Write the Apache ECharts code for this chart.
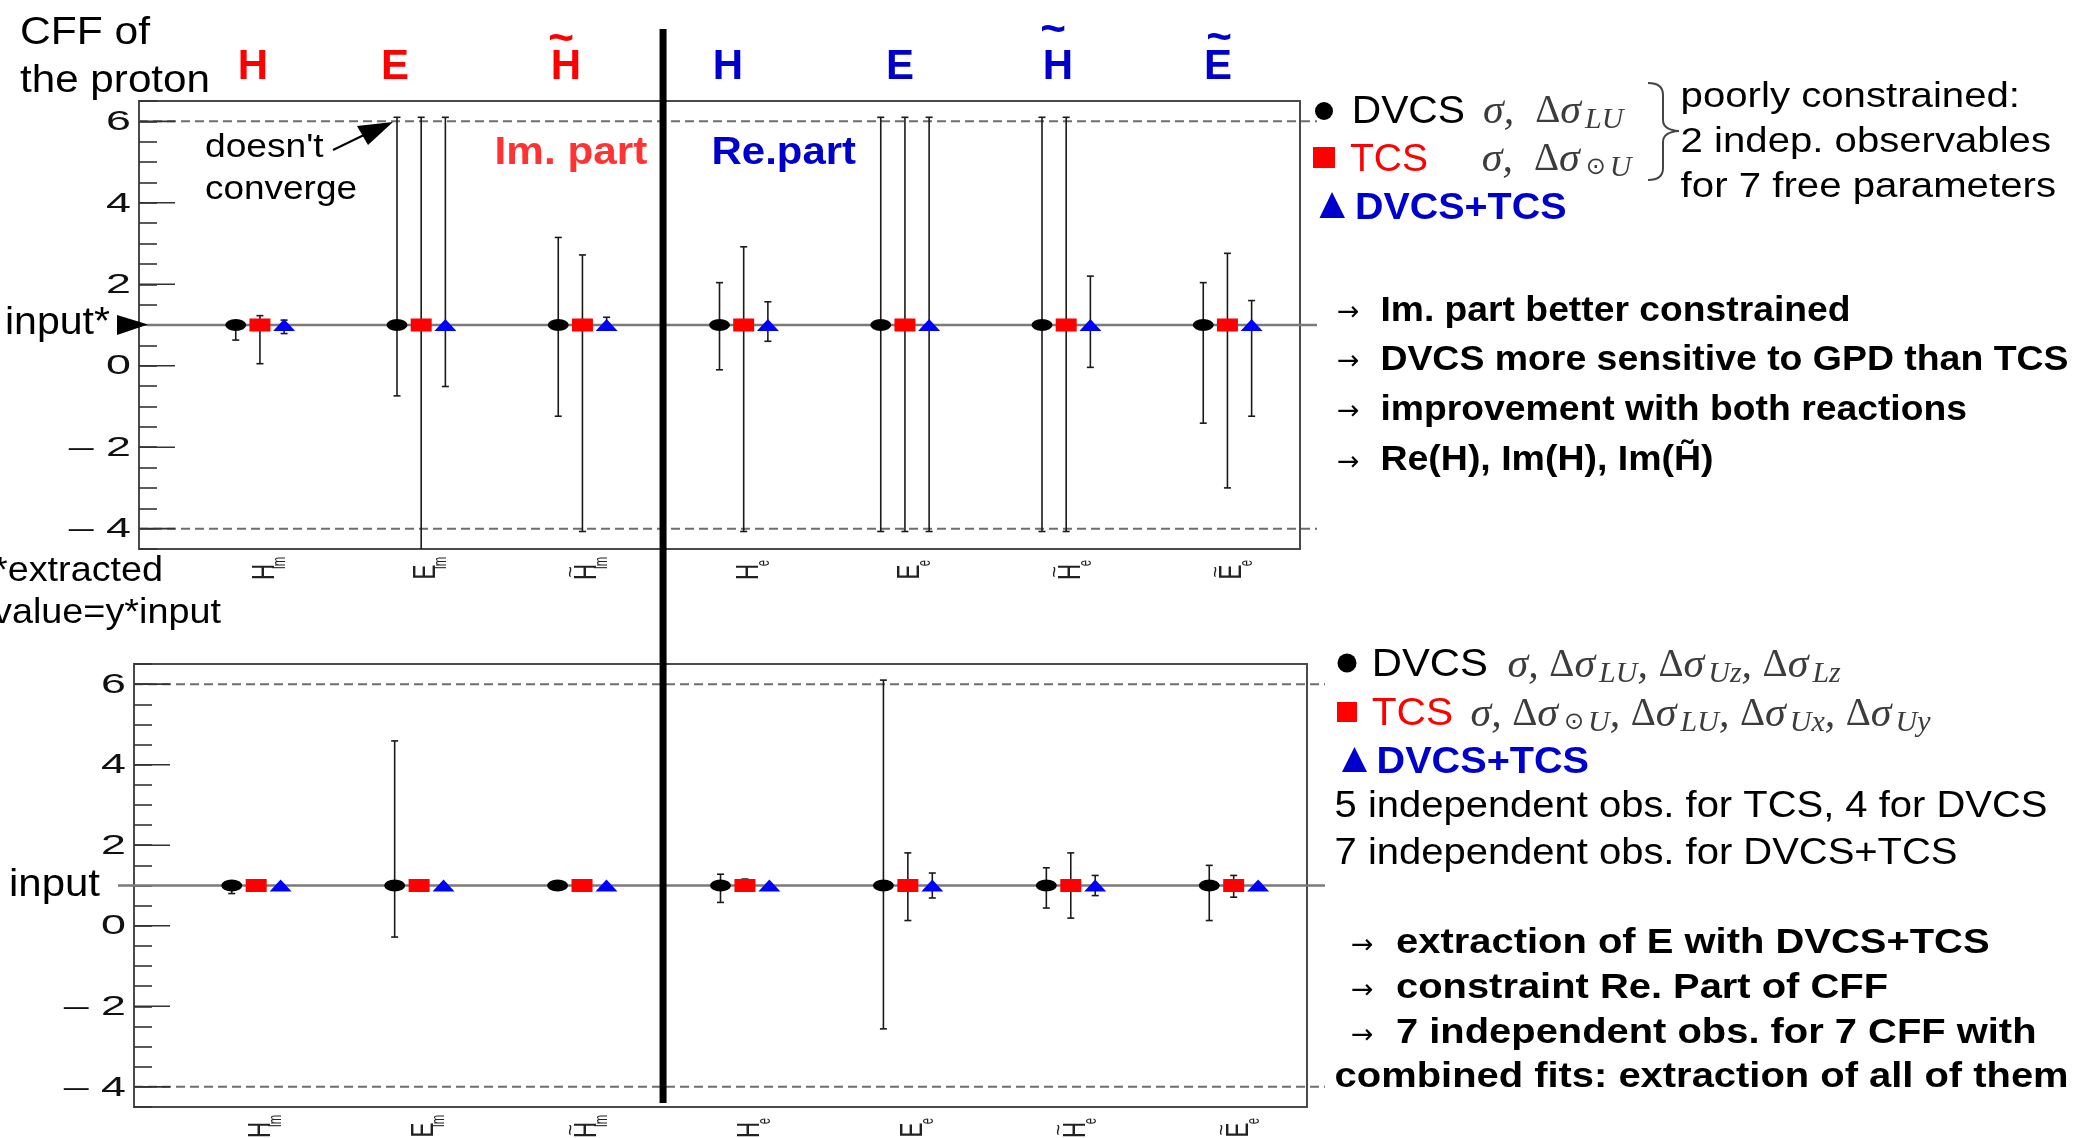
<!DOCTYPE html>
<html>
<head>
<meta charset="utf-8">
<title>CFF of the proton</title>
<script src="https://cdn.jsdelivr.net/npm/echarts@6.0.0/dist/echarts.min.js"></script>
<style>
html, body { margin: 0; padding: 0; background: #fff; }
#chart { width: 2075px; height: 1138px; }
</style>
</head>
<body>
<div id="chart"></div>
<script>
// Compton form factors, imaginary parts first, then real parts
const cffLetters = ['H', 'E', 'H', 'H', 'E', 'H', 'E'];
const cffTilde   = [false, false, true, false, false, true, true];
const cffPart    = ['Im', 'Im', 'Im', 'e', 'e', 'e', 'e'];
const cffIndex   = [0, 1, 2, 3, 4, 5, 6];

// Extracted value divided by the input value (1 = input recovered)
const fitDvcs = [1, 1, 1, 1, 1, 1, 1];
const fitTcs  = [1, 1, 1, 1, 1, 1, 1];
const fitBoth = [1, 1, 1, 1, 1, 1, 1];

// Upper panel: sigma plus one beam asymmetry per reaction (lower / upper error limits)
const lowDvcsA  = [0.63, -0.74, -1.24, -0.10, -4.07, -4.07, -1.41];
const highDvcsA = [1.10,  6.10,  3.15,  2.04,  6.10,  6.10,  2.04];
const lowTcsA   = [0.05, -5.00, -4.07, -4.07, -4.07, -4.07, -3.00];
const highTcsA  = [1.23,  6.10,  2.72,  2.92,  6.10,  6.10,  2.76];
const lowBothA  = [0.79, -0.51,  0.92,  0.60, -4.07, -0.04, -1.24];
const highBothA = [1.12,  6.10,  1.19,  1.57,  6.10,  2.20,  1.60];

// Lower panel: full set of target/beam asymmetries
const lowDvcsB  = [0.80, -0.28, 0.95, 0.58, -2.56, 0.44, 0.13];
const highDvcsB = [1.05,  4.59, 1.05, 1.28,  6.10, 1.44, 1.50];
const lowTcsB   = [0.96,  0.96, 0.96, 0.95,  0.13, 0.19, 0.71];
const highTcsB  = [1.04,  1.04, 1.04, 1.16,  1.81, 1.81, 1.25];
const lowBothB  = [0.96,  0.96, 0.96, 0.96,  0.69, 0.75, 0.96];
const highBothB = [1.04,  1.04, 1.04, 1.04,  1.31, 1.25, 1.04];

// Axis ticks and reference levels
const yLabelValues = [-4, -2, 0, 2, 4, 6];
const fitLimits = [6, -4];
const inputLevel = 1;
const separatorX = 2.5;

const X_MIN = -0.75, X_MAX = 6.45, Y_MIN = -4.5, Y_MAX = 6.5;
const SHIFT = [-0.15, 0, 0.15];
const SYMBOLS = ['circle', 'rect', 'triangle'];
const SYMBOL_SIZES = [[21, 12], [21, 13], [22, 12]];
const MARK_COLORS = ['#000000', '#ff0000', '#0000ff'];
const SANS = "'Liberation Sans', Arial, sans-serif";
const SERIF = "'Liberation Serif', 'DejaVu Serif', serif";

const panels = [
  { grid: { left: 139, top: 101, width: 1161, height: 448 },
    fits: [fitDvcs, fitTcs, fitBoth],
    low: [lowDvcsA, lowTcsA, lowBothA], high: [highDvcsA, highTcsA, highBothA],
    refRight: 17, inputLeft: 8 },
  { grid: { left: 134, top: 664, width: 1173, height: 443 },
    fits: [fitDvcs, fitTcs, fitBoth],
    low: [lowDvcsB, lowTcsB, lowBothB], high: [highDvcsB, highTcsB, highBothB],
    refRight: 18, inputLeft: -16 }
];

const grids = [], xAxes = [], yAxes = [], series = [];

panels.forEach((pn, p) => {
  grids.push(Object.assign({ show: true, borderColor: '#4a4a4a', borderWidth: 2,
    backgroundColor: 'transparent', containLabel: false }, pn.grid));
  xAxes.push({ type: 'value', gridIndex: p, min: X_MIN, max: X_MAX, position: 'bottom',
    axisLine: { show: false, onZero: false }, axisTick: { show: false }, axisLabel: { show: false },
    splitLine: { show: false } });
  yAxes.push({ type: 'value', gridIndex: p, min: Y_MIN, max: Y_MAX, interval: 0.5, position: 'left',
    axisLine: { show: false, onZero: false },
    axisTick: { show: true, inside: true, length: 18, lineStyle: { color: '#333', width: 1.6 } },
    axisLabel: { show: false }, splitLine: { show: false } });

  const axes = { xAxisIndex: p, yAxisIndex: p };

  // dashed fit limits, running past the right edge of the frame
  series.push(Object.assign({
    type: 'custom', silent: true, clip: false, z: 1,
    data: fitLimits.map(v => [X_MIN, v]),
    renderItem: (params, api) => {
      const a = api.coord([X_MIN, api.value(1)]);
      const b = api.coord([X_MAX, api.value(1)]);
      return { type: 'line', shape: { x1: a[0], y1: a[1], x2: b[0] + pn.refRight, y2: b[1] },
        style: { stroke: '#6e6e6e', lineWidth: 2, lineDash: [9, 5] } };
    }
  }, axes));

  // input level
  series.push(Object.assign({
    type: 'custom', silent: true, clip: false, z: 1,
    data: [[X_MIN, inputLevel]],
    renderItem: (params, api) => {
      const a = api.coord([X_MIN, api.value(1)]);
      const b = api.coord([X_MAX, api.value(1)]);
      return { type: 'line', shape: { x1: a[0] + pn.inputLeft, y1: a[1], x2: b[0] + pn.refRight, y2: b[1] },
        style: { stroke: '#7a7a7a', lineWidth: 2.5 } };
    }
  }, axes));

  // long ticks at the labelled values
  series.push(Object.assign({
    type: 'custom', silent: true, clip: false, z: 2,
    data: yLabelValues.map(v => [X_MIN, v]),
    renderItem: (params, api) => {
      const a = api.coord([X_MIN, api.value(1)]);
      return { type: 'line', shape: { x1: a[0], y1: a[1], x2: a[0] + 36, y2: a[1] },
        style: { stroke: '#333', lineWidth: 1.6 } };
    }
  }, axes));

  // y tick labels
  series.push(Object.assign({
    type: 'custom', silent: true, clip: false, z: 2,
    data: yLabelValues.map(v => [X_MIN, v]),
    renderItem: (params, api) => {
      const v = api.value(1);
      const a = api.coord([X_MIN, v]);
      const t = v < 0 ? '\u2013 ' + Math.abs(v) : String(v);
      return { type: 'text', x: a[0] - 8, y: a[1] + 1, scaleX: 1.6,
        style: { text: t, x: 0, y: 0, fill: '#111', fontSize: 28, fontFamily: SANS,
          align: 'right', verticalAlign: 'middle' } };
    }
  }, axes));

  // rotated category labels below the frame
  series.push(Object.assign({
    type: 'custom', silent: true, clip: false, z: 2,
    data: cffIndex.map(i => [i, Y_MIN]),
    renderItem: (params, api) => {
      const j = api.value(0);
      const a = api.coord([j, Y_MIN]);
      const cx = a[0] + 5, cy = a[1] + 23;
      const kids = [
        { type: 'text', x: cx, y: cy, rotation: Math.PI / 2, scaleX: 0.7,
          style: { text: cffLetters[j], x: 0, y: 0, fill: '#222', fontSize: 32, fontFamily: SANS,
            align: 'center', verticalAlign: 'middle' } },
        { type: 'text', x: cx + 15, y: a[1] + 14, rotation: Math.PI / 2, scaleX: 0.63,
          style: { text: cffPart[j], x: 0, y: 0, fill: '#222', fontSize: 18, fontFamily: SANS,
            align: 'center', verticalAlign: 'middle' } }
      ];
      if (cffTilde[j]) {
        kids.push({ type: 'text', x: cx - 16, y: cy, rotation: Math.PI / 2,
          style: { text: '~', x: 0, y: 0, fill: '#222', fontSize: 20, fontFamily: SANS,
            align: 'center', verticalAlign: 'middle' } });
      }
      return { type: 'group', children: kids };
    }
  }, axes));

  // error bars with end caps
  const bars = [];
  for (let k = 0; k < 3; k++) {
    cffIndex.forEach(j => bars.push([j + SHIFT[k], pn.low[k][j], pn.high[k][j]]));
  }
  series.push(Object.assign({
    type: 'custom', silent: true, clip: true, z: 3,
    data: bars,
    renderItem: (params, api) => {
      const x = api.value(0);
      const top = api.coord([x, api.value(2)]);
      const bot = api.coord([x, api.value(1)]);
      const st = () => ({ stroke: '#1a1a1a', lineWidth: 1.6 });
      return { type: 'group', children: [
        { type: 'line', shape: { x1: top[0], y1: top[1], x2: bot[0], y2: bot[1] }, style: st() },
        { type: 'line', shape: { x1: top[0] - 3.5, y1: top[1], x2: top[0] + 3.5, y2: top[1] }, style: st() },
        { type: 'line', shape: { x1: bot[0] - 3.5, y1: bot[1], x2: bot[0] + 3.5, y2: bot[1] }, style: st() }
      ] };
    }
  }, axes));

  // fitted points
  for (let k = 0; k < 3; k++) {
    series.push(Object.assign({
      type: 'scatter', silent: true, z: 4,
      symbol: SYMBOLS[k], symbolSize: SYMBOL_SIZES[k],
      itemStyle: { color: MARK_COLORS[k], opacity: 1 },
      data: pn.fits[k].map((v, j) => [j + SHIFT[k], v])
    }, axes));
  }
});

const chart = echarts.init(document.getElementById('chart'), null, { renderer: 'canvas' });
chart.setOption({
  animation: false,
  backgroundColor: '#ffffff',
  grid: grids, xAxis: xAxes, yAxis: yAxes, series: series
});

// ---- annotations ----
// the y given for each text is its cap-height middle; DY moves the em-box middle onto it
const DY = 4;
const mctx = document.createElement('canvas').getContext('2d');
function textWidth(t, size, weight, family) {
  mctx.font = weight + ' ' + size + 'px ' + family;
  return mctx.measureText(t).width;
}
function fitText(t, x0, x1, y, size, o) {
  o = o || {};
  const weight = o.bold ? 'bold' : 'normal';
  const sx = (x1 - x0) / textWidth(t, size, weight, SANS);
  return { type: 'text', x: x0, y: y + DY, scaleX: sx, z: 20, silent: true,
    style: { text: t, x: 0, y: 0, fill: o.color || '#000', fontSize: size, fontWeight: weight,
      fontFamily: SANS, align: 'left', verticalAlign: 'middle' } };
}
function centerText(t, cx, y, size, color, bold) {
  return { type: 'text', x: cx, y: y + DY, z: 20, silent: true,
    style: { text: t, x: 0, y: 0, fill: color, fontSize: size, fontWeight: bold ? 'bold' : 'normal',
      fontFamily: SANS, align: 'center', verticalAlign: 'middle' } };
}
function arrowGlyph(x, y) {
  return { type: 'text', x: x, y: y + DY, z: 20, silent: true,
    style: { text: '\u2192', x: 0, y: 0, fill: '#000', fontSize: 27,
      fontFamily: "'DejaVu Sans', sans-serif", align: 'left', verticalAlign: 'middle' } };
}
const MATH = '#3c3c3c';
const mathRich = {
  v: { fontFamily: SERIF, fontStyle: 'italic', fontSize: 42, fill: MATH, lineHeight: 46 },
  d: { fontFamily: SERIF, fontSize: 39, fill: MATH, lineHeight: 46 },
  s: { fontFamily: SERIF, fontStyle: 'italic', fontSize: 30, fill: MATH, verticalAlign: 'bottom', padding: [0, 0, 0, 4] },
  o: { fontFamily: "'DejaVu Sans', sans-serif", fontSize: 24, fill: MATH, verticalAlign: 'bottom', padding: [0, 0, 3, 6] }
};
function mathText(t, x, y) {
  return { type: 'text', x: x, y: y + DY, z: 20, silent: true,
    style: { text: t, x: 0, y: 0, rich: mathRich, align: 'left', verticalAlign: 'middle', fill: MATH } };
}
function segment(x1, y1, x2, y2, color, w) {
  return { type: 'line', z: 20, silent: true, shape: { x1, y1, x2, y2 }, style: { stroke: color, lineWidth: w } };
}
function curve(x1, y1, cx, cy, x2, y2, color, w) {
  return { type: 'bezierCurve', z: 20, silent: true,
    shape: { x1, y1, cpx1: cx, cpy1: cy, x2, y2 }, style: { stroke: color, lineWidth: w, fill: 'none' } };
}
const RED = '#ff0000', BLUE = '#0000cc';

const g = [];
g.push(fitText('CFF of', 20, 150, 29, 39));
g.push(fitText('the proton', 20, 210, 77.5, 39));

// CFF names above the upper frame
g.push(centerText('H', 253, 63, 42, RED, true));
g.push(centerText('E', 395, 63, 42, RED, true));
g.push(centerText('H', 566, 63, 42, RED, true));
g.push(centerText('~', 561, 36, 44, RED, true));
g.push(centerText('H', 728, 63, 42, BLUE, true));
g.push(centerText('E', 900, 63, 42, BLUE, true));
g.push(centerText('H', 1058, 63, 42, BLUE, true));
g.push(centerText('~', 1053, 27, 44, BLUE, true));
g.push(centerText('E', 1218, 63, 42, BLUE, true));
g.push(centerText('~', 1219, 35, 44, BLUE, true));

g.push(fitText('Im. part', 494.6, 647.3, 149, 39, { bold: true, color: '#ff3333' }));
g.push(fitText('Re.part', 711.6, 856, 149, 39, { bold: true, color: BLUE }));

g.push(fitText("doesn't", 205, 323.7, 144, 34));
g.push(fitText('converge', 205, 357, 185.5, 34));
g.push(segment(333, 150, 366, 134, '#000', 2));
g.push({ type: 'polygon', z: 20, silent: true, shape: { points: [[393, 122], [357, 126], [368, 145]] },
  style: { fill: '#000' } });

g.push(fitText('input*', 5, 110, 320, 38));
g.push({ type: 'polygon', z: 20, silent: true, shape: { points: [[117, 315], [117, 335], [148, 324.5]] },
  style: { fill: '#000' } });
g.push(fitText('*extracted', -7, 163, 567, 35));
g.push(fitText('value=y*input', -7, 221, 609, 35));
g.push(fitText('input', 9, 100, 882, 38));

// upper legend
g.push({ type: 'circle', z: 20, silent: true, shape: { cx: 1324, cy: 111, r: 9 }, style: { fill: '#000' } });
g.push(fitText('DVCS', 1351.7, 1465, 108, 38.7));
g.push(mathText('{v|\u03c3}{v|,  }{d|\u0394}{v|\u03c3}{s|LU}', 1483, 108));
g.push({ type: 'rect', z: 20, silent: true, shape: { x: 1313, y: 147, width: 22, height: 21 }, style: { fill: RED } });
g.push(fitText('TCS', 1350, 1428, 156, 38.7, { color: RED }));
g.push(mathText('{v|\u03c3}{v|,  }{d|\u0394}{v|\u03c3}{o|\u2299}{s|U}', 1481.7, 156));
g.push({ type: 'polygon', z: 20, silent: true, shape: { points: [[1332, 192], [1319.5, 218], [1345, 218]] }, style: { fill: BLUE } });
g.push(fitText('DVCS+TCS', 1355, 1566.5, 205.5, 36, { bold: true, color: BLUE }));

// curly brace grouping the two observable lists
const BR = '#444';
g.push(curve(1648, 83, 1663, 83, 1663, 95, BR, 2));
g.push(segment(1663, 95, 1663, 120, BR, 2));
g.push(curve(1663, 120, 1663, 130, 1679, 131, BR, 2));
g.push(curve(1679, 131, 1663, 132, 1663, 142, BR, 2));
g.push(segment(1663, 142, 1663, 168, BR, 2));
g.push(curve(1663, 168, 1663, 180, 1648, 180, BR, 2));

g.push(fitText('poorly constrained:', 1680.6, 2020, 93, 35));
g.push(fitText('2 indep. observables', 1680.6, 2051, 138, 35));
g.push(fitText('for 7 free parameters', 1680.6, 2056, 183, 35));

const upperNotes = [
  ['Im. part better constrained', 1850.5, 307],
  ['DVCS more sensitive to GPD than TCS', 2068.5, 356],
  ['improvement with both reactions', 1967, 406],
  ['Re(H), Im(H), Im(H\u0303)', 1713.6, 456.6]
];
upperNotes.forEach(n => {
  g.push(arrowGlyph(1337, n[2] + 2));
  g.push(fitText(n[0], 1380.4, n[1], n[2], 35, { bold: true }));
});

// lower legend
g.push({ type: 'circle', z: 20, silent: true, shape: { cx: 1347, cy: 663, r: 9.5 }, style: { fill: '#000' } });
g.push(fitText('DVCS', 1371.7, 1487.8, 662, 38));
g.push(mathText('{v|\u03c3}{v|, }{d|\u0394}{v|\u03c3}{s|LU}{v|, }{d|\u0394}{v|\u03c3}{s|Uz}{v|, }{d|\u0394}{v|\u03c3}{s|Lz}', 1507.6, 662));
g.push({ type: 'rect', z: 20, silent: true, shape: { x: 1337, y: 702, width: 20, height: 20 }, style: { fill: RED } });
g.push(fitText('TCS', 1371.7, 1453, 711, 38, { color: RED }));
g.push(mathText('{v|\u03c3}{v|, }{d|\u0394}{v|\u03c3}{o|\u2299}{s|U}{v|, }{d|\u0394}{v|\u03c3}{s|LU}{v|, }{d|\u0394}{v|\u03c3}{s|Ux}{v|, }{d|\u0394}{v|\u03c3}{s|Uy}', 1470.5, 711));
g.push({ type: 'polygon', z: 20, silent: true, shape: { points: [[1354.5, 747], [1342, 772], [1367, 772]] }, style: { fill: BLUE } });
g.push(fitText('DVCS+TCS', 1376.6, 1589, 759, 36, { bold: true, color: BLUE }));
g.push(fitText('5 independent obs. for TCS, 4 for DVCS', 1334.6, 2047.4, 803, 37));
g.push(fitText('7 independent obs. for DVCS+TCS', 1334.6, 1957.5, 849.6, 37));

const lowerNotes = [
  ['extraction of E with DVCS+TCS', 1989.6, 939.6],
  ['constraint Re. Part of CFF', 1888, 984.6],
  ['7 independent obs. for 7 CFF with', 2036.5, 1029.6]
];
lowerNotes.forEach(n => {
  g.push(arrowGlyph(1351, n[2] + 2));
  g.push(fitText(n[0], 1396, n[1], n[2], 35, { bold: true }));
});
g.push(fitText('combined fits: extraction of all of them', 1334.6, 2068.6, 1073.3, 35, { bold: true }));

// thick divider between imaginary and real parts, spanning both panels
const topPt = chart.convertToPixel({ xAxisIndex: 0, yAxisIndex: 0 }, [separatorX, Y_MAX]);
const botPt = chart.convertToPixel({ xAxisIndex: 1, yAxisIndex: 1 }, [separatorX, Y_MIN]);
g.push({ type: 'line', z: 50, silent: true,
  shape: { x1: topPt[0], y1: topPt[1] - 72, x2: topPt[0], y2: botPt[1] - 4 },
  style: { stroke: '#000', lineWidth: 7 } });

chart.setOption({ graphic: { elements: g } });
</script>
</body>
</html>
